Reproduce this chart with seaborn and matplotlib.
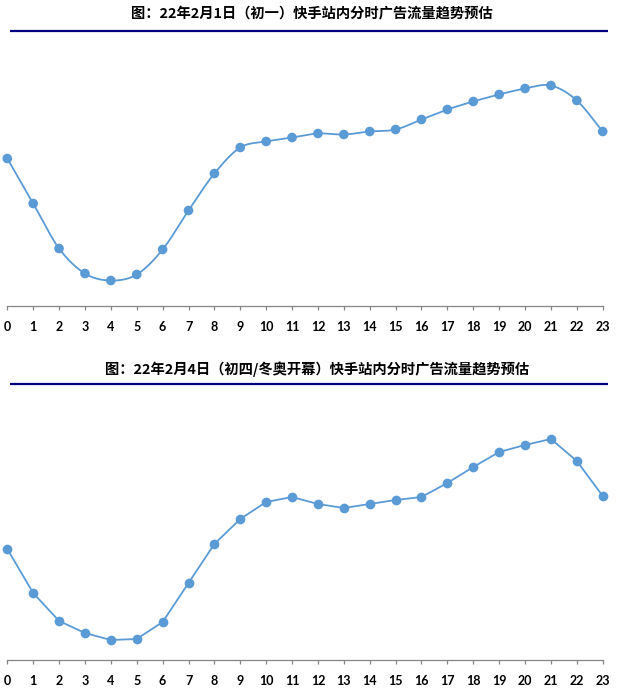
import numpy as np
import pandas as pd
import matplotlib
matplotlib.use("Agg")
import matplotlib.pyplot as plt
from matplotlib.lines import Line2D
import seaborn as sns

# ---- data ----
hours = list(range(24))
tick_labels = [str(h) for h in hours]
title1 = "图：22年2月1日（初一）快手站内分时广告流量趋势预估"
title2 = "图：22年2月4日（初四/冬奥开幕）快手站内分时广告流量趋势预估"
traffic_feb1 = [147, 102, 57, 32, 25, 31, 56, 95, 132, 158, 164, 168,
                172, 171, 174, 176, 186, 196, 204, 211, 217, 220, 205, 174]
traffic_feb4 = [111, 67, 39, 27, 20, 21, 38, 77, 116, 141, 158, 163,
                156, 152, 156, 160, 163, 177, 193, 208, 215, 221, 199, 164]

BLUE = "#5B9BD5"
NAVY = "#000080"
GRAY = "#868686"

sns.set_theme(style="white")
plt.rcParams['font.family'] = ['Noto Sans CJK SC', 'DejaVu Sans']

W, H = 623, 693
fig = plt.figure(figsize=(W / 100, H / 100), dpi=100)


def smooth(x, y, n=20):
    """Catmull-Rom style smoothing of the connector (visual only)."""
    x = np.asarray(x, float)
    y = np.asarray(y, float)
    px = np.concatenate([[2 * x[0] - x[1]], x, [2 * x[-1] - x[-2]]])
    py = np.concatenate([[2 * y[0] - y[1]], y, [2 * y[-1] - y[-2]]])
    xs, ys = [], []
    t = np.linspace(0, 1, n, endpoint=False)
    for i in range(1, len(px) - 2):
        p0, p1, p2, p3 = py[i - 1], py[i], py[i + 1], py[i + 2]
        c1 = p1 + (p2 - p0) / 6
        c2 = p2 - (p3 - p1) / 6
        yy = (1 - t) ** 3 * p1 + 3 * (1 - t) ** 2 * t * c1 + 3 * (1 - t) * t ** 2 * c2 + t ** 3 * p2
        xx = px[i] + t * (px[i + 1] - px[i])
        xs.extend(xx)
        ys.extend(yy)
    xs.append(x[-1])
    ys.append(y[-1])
    return np.array(xs), np.array(ys)


def make_axes(bottom_px):
    left = 7.3 / W
    width = (602.7 - 7.3) / W
    height = 270 / H
    bottom = (H - bottom_px) / H
    ax = fig.add_axes([left, bottom, width, height])
    ax.set_xlim(0, 23)
    ax.set_ylim(0, 270)
    for s in ["left", "right", "top"]:
        ax.spines[s].set_visible(False)
    ax.spines["bottom"].set_color(GRAY)
    ax.spines["bottom"].set_linewidth(0.9)
    ax.set_xticks(hours)
    ax.set_xticklabels(tick_labels, fontsize=9, fontweight="bold",
                       family=["Lato", "DejaVu Sans"])
    ax.set_yticks([])
    ax.tick_params(axis="x", bottom=True, direction="out", length=3,
                   width=0.9, color=GRAY, pad=8, labelcolor="black")
    ax.set_xlabel("")
    ax.set_ylabel("")
    ax.set_facecolor("none")
    return ax


# ---- chart 1 (smoothed) ----
ax1 = make_axes(305.5)
sx, sy = smooth(hours, traffic_feb1)
sns.lineplot(x=sx, y=sy, ax=ax1, color=BLUE, linewidth=1.3, sort=False,
             estimator=None)
sns.scatterplot(x=hours, y=traffic_feb1, ax=ax1, color=BLUE, s=48,
                edgecolor="none", zorder=3, clip_on=False)
ax1.set_xlabel("")

# ---- chart 2 (straight) ----
ax2 = make_axes(660)
df2 = pd.DataFrame({"hour": hours, "traffic": traffic_feb4})
sns.lineplot(data=df2, x="hour", y="traffic", ax=ax2, color=BLUE,
             linewidth=1.3, marker="o", markersize=7, markeredgewidth=0,
             clip_on=False)
ax2.set_xlabel("")
ax2.set_ylabel("")

# ---- titles and rules ----
fig.text(311.5 / W, 1 - 14.5 / H, title1, ha="center", va="center",
         fontsize=10.3, fontweight="bold", color="black")
fig.text(317 / W, 1 - 369 / H, title2, ha="center", va="center",
         fontsize=10.3, fontweight="bold", color="black")
for ypx in (31, 384):
    fig.add_artist(Line2D([10 / W, 608 / W], [1 - ypx / H, 1 - ypx / H],
                          transform=fig.transFigure, color=NAVY, lw=1.6,
                          solid_capstyle="butt"))

fig.savefig("out.png", dpi=100)
